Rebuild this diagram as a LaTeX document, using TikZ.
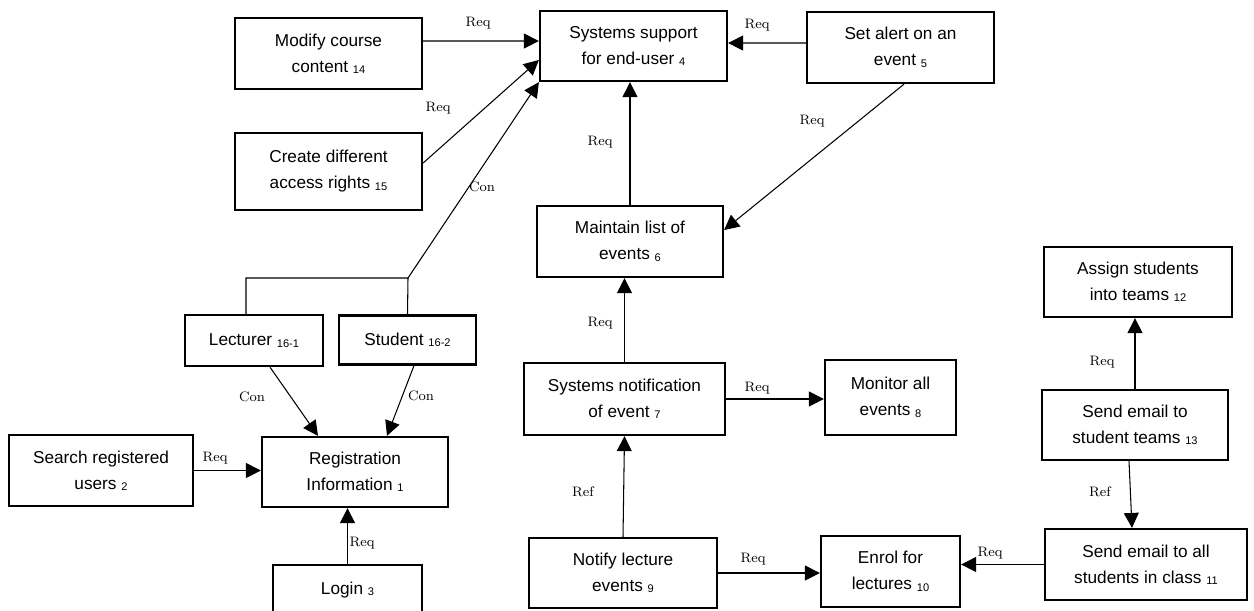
\documentclass[tikz,border=0pt]{standalone}
\usepackage{fontspec}
\usetikzlibrary{arrows.meta,positioning}
\newfontfamily\boxfont{Liberation Sans}
\newcommand{\nodeno}[1]{\raisebox{-0.8pt}{\fontsize{6.3}{7}\selectfont #1}}

\begin{document}
\begin{tikzpicture}[
    x=0.02cm, y=-0.02cm,
    task/.style={draw, line width=1.3pt, align=center, inner sep=0pt, font=\boxfont\fontsize{9.8}{14.8}\selectfont},
    rel/.style={inner sep=0pt, font=\fontsize{7.8}{9}\selectfont},
    arrow/.style={-{Triangle[length=8.5pt, width=8.5pt]}, line width=0.6pt}
]
\useasboundingbox (0,0) rectangle (1254,610);

\node[task, minimum width=3.74cm, minimum height=1.42cm] (modify) at (328.5,53.5) {Modify course\\content \nodeno{14}};
\node[task, minimum width=3.74cm, minimum height=1.54cm] (access) at (328.5,171.5) {Create different\\access rights \nodeno{15}};
\node[task, minimum width=3.74cm, minimum height=1.40cm] (support) at (633.5,46) {Systems support\\for end-user \nodeno{4}};
\node[task, minimum width=3.74cm, minimum height=1.42cm] (alert) at (900.5,47.5) {Set alert on an\\event \nodeno{5}};
\node[task, minimum width=3.72cm, minimum height=1.42cm] (maintain) at (630,241.5) {Maintain list of\\events \nodeno{6}};
\node[task, minimum width=3.76cm, minimum height=1.40cm] (assign) at (1138,282) {Assign students\\into teams \nodeno{12}};
\node[task, minimum width=2.76cm, minimum height=1.02cm] (lecturer) at (254,340.5) {Lecturer \nodeno{16-1}};
\node[task, minimum width=2.74cm, minimum height=0.98cm] (student) at (407.5,340) {Student \nodeno{16-2}};
\node[task, minimum width=4.02cm, minimum height=1.44cm] (notif) at (624.5,399) {Systems notification\\of event \nodeno{7}};
\node[task, minimum width=2.62cm, minimum height=1.50cm] (monitor) at (890.5,397.5) {Monitor all\\events \nodeno{8}};
\node[task, minimum width=3.76cm, minimum height=1.40cm] (notify) at (623,573) {Notify lecture\\events \nodeno{9}};
\node[task, minimum width=2.78cm, minimum height=1.42cm] (enrol) at (890.5,571.5) {Enrol for\\lectures \nodeno{10}};
\node[task, minimum width=3.72cm, minimum height=1.40cm] (emailteam) at (1135,425) {Send email to\\student teams \nodeno{13}};
\node[task, minimum width=4.04cm, minimum height=1.42cm] (emailall) at (1146,564.5) {Send email to all\\students in class \nodeno{11}};
\node[task, minimum width=3.72cm, minimum height=1.40cm] (reg) at (355,472) {Registration\\Information \nodeno{1}};
\node[task, minimum width=3.68cm, minimum height=1.42cm] (search) at (101,470.5) {Search registered\\users \nodeno{2}};
\node[task, minimum width=2.98cm, minimum height=1.00cm] (login) at (347.5,590) {Login \nodeno{3}};

% joint of the two user roles
\coordinate (roles) at (408,278);
\draw[line width=0.6pt] ([xshift=-0.16cm]lecturer.north) |- (roles) -- (student.north);

% connectors
\draw[arrow] ([yshift=0.25cm]modify.east) -- ([yshift=0.1cm]support.west);
\draw[arrow] ([yshift=0.17cm]access.east) -- ([yshift=-0.28cm]support.west);
\draw[arrow] (roles) -- (support.south west);
\draw[arrow] ([yshift=0.09cm]alert.west) -- ([yshift=0.06cm]support.east);
\draw[arrow] ([xshift=0.07cm]alert.south) -- ([yshift=0.23cm]maintain.east);
\draw[arrow] (maintain.north) -- (maintain.north |- support.south);
\draw[arrow] (notif.north) -- (notif.north |- maintain.south);
\draw[arrow] (notif.east) -- (notif.east -| monitor.west);
\draw[arrow] (notify.north) -- (notif.south);
\draw[arrow] (notify.east) -- (notify.east -| enrol.west);
\draw[arrow] (emailall.west) -- (emailall.west -| enrol.east);
\draw[arrow] (emailteam.north) -- (emailteam.north |- assign.south);
\draw[arrow] ([xshift=-0.12cm]emailteam.south) -- ([xshift=-0.28cm]emailall.north);
\draw[arrow] ([xshift=0.32cm]lecturer.south) -- ([xshift=-0.74cm]reg.north);
\draw[arrow] ([xshift=0.13cm]student.south) -- ([xshift=0.64cm]reg.north);
\draw[arrow] (search.east) -- (search.east -| reg.west);
\draw[arrow] (login.north) -- (login.north |- reg.south);

% relation labels
\node[rel] (r1) at (478,23) {Req};
\node[rel] (r2) at (438,108) {Req};
\node[rel] (c1) at (482,187) {Con};
\node[rel] (r3) at (600,142) {Req};
\node[rel] (r4) at (757,25) {Req};
\node[rel] (r5) at (812,121) {Req};
\node[rel] (r6) at (600,323) {Req};
\node[rel] (r7) at (757,388) {Req};
\node[rel] (f1) at (583,492) {Ref};
\node[rel] (r8) at (753,559) {Req};
\node[rel] (r9) at (990,553) {Req};
\node[rel] (r10) at (1102,362) {Req};
\node[rel] (f2) at (1100,492) {Ref};
\node[rel] (c2) at (252,397) {Con};
\node[rel] (c3) at (421,396) {Con};
\node[rel] (r11) at (215,458) {Req};
\node[rel] (r12) at (362,543) {Req};
\end{tikzpicture}
\end{document}
